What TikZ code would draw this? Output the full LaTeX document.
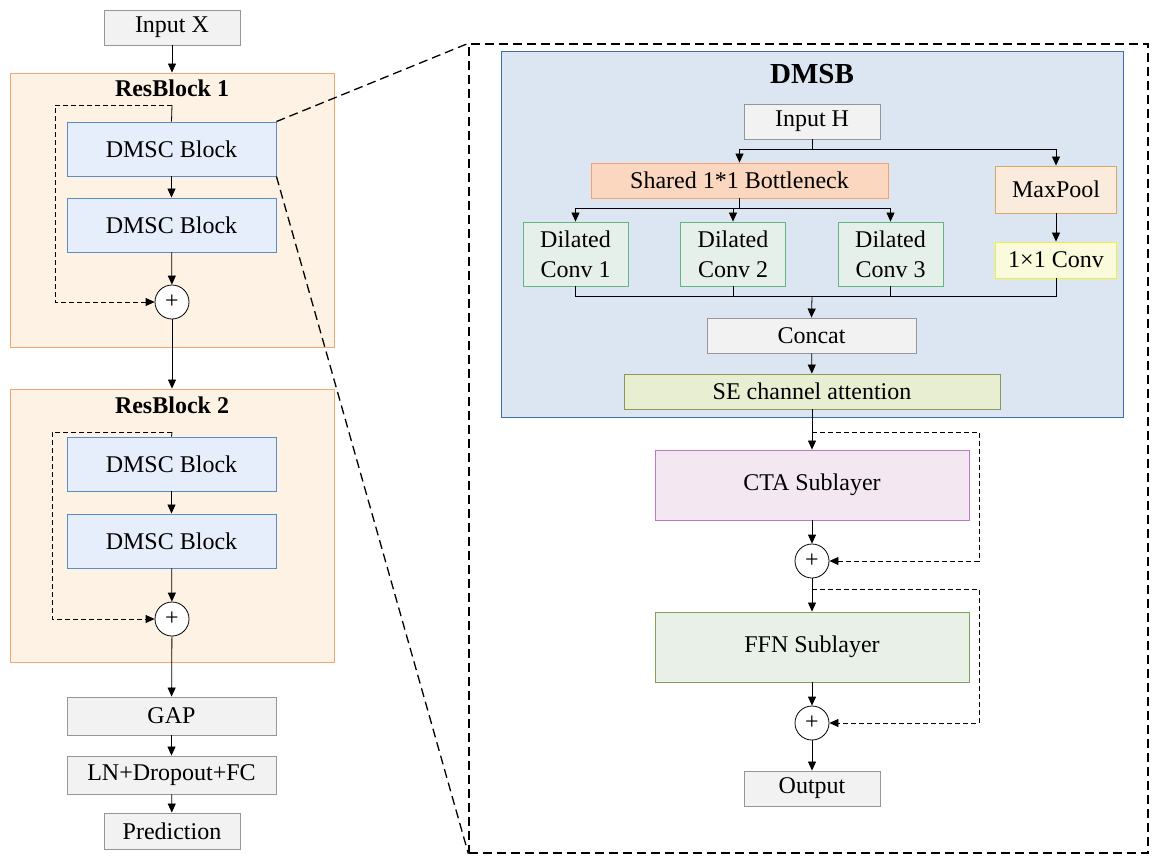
\documentclass[tikz,border=0pt]{standalone}
\usepackage{fontspec}
\setmainfont{Liberation Serif}
\usetikzlibrary{arrows.meta}
\begin{document}
\begin{tikzpicture}[x=1pt,y=-1pt,
  every node/.style={font=\fontsize{24}{26}\selectfont},
  bx/.style={draw=#1, line width=0.9pt, inner sep=0pt, minimum height=0pt},
  arr/.style={-{Triangle[length=9pt,width=8pt]}, line width=0.8pt},
  ln/.style={line width=0.8pt},
  skip/.style={-{Triangle[length=9pt,width=8pt]}, line width=0.8pt, dash pattern=on 5pt off 3pt},
  plus/.style={circle, draw, fill=white, line width=0.8pt, minimum size=34pt, inner sep=0pt}]
\definecolor{gfill}{RGB}{242,242,242}\definecolor{gbord}{RGB}{150,150,150}
\definecolor{dfill}{RGB}{229,238,250}\definecolor{dbord}{RGB}{90,140,200}
\definecolor{rfill}{RGB}{254,242,228}\definecolor{rbord}{RGB}{245,165,110}
\definecolor{mfill}{RGB}{220,230,242}\definecolor{mbord}{RGB}{60,110,170}
\definecolor{sfill}{RGB}{250,215,190}\definecolor{sbord}{RGB}{245,160,110}
\definecolor{pfill}{RGB}{250,235,220}\definecolor{pbord}{RGB}{215,170,100}
\definecolor{cfill}{RGB}{230,240,235}\definecolor{cbord}{RGB}{100,180,130}
\definecolor{yfill}{RGB}{250,250,220}\definecolor{ybord}{RGB}{240,240,60}
\definecolor{efill}{RGB}{232,238,210}\definecolor{ebord}{RGB}{140,150,90}
\definecolor{tfill}{RGB}{243,232,242}\definecolor{tbord}{RGB}{190,120,200}
\definecolor{ffill}{RGB}{232,240,232}\definecolor{fbord}{RGB}{130,160,90}
\useasboundingbox (0,0) rectangle (1159,863);
% helper macro for boxes by corners
\newcommand{\mybox}[6]{\node[bx=#5, fill=#6, minimum width=#3-#1, minimum height=#4-#2] (#1#2) at ({(#1+#3)/2},{(#2+#4)/2}) {};}
% left column
\node[bx=gbord, fill=gfill, minimum width=136pt, minimum height=35pt] (inx) at (172,27.5) {Input X};
\node[bx=rbord, fill=rfill, minimum width=324pt, minimum height=274pt] (rb1) at (172,210) {};
\node[font=\fontsize{24}{26}\selectfont\bfseries] (rb1t) at (172,88) {ResBlock 1};
\node[bx=dbord, fill=dfill, minimum width=209pt, minimum height=54pt] (d1) at (171.5,149) {DMSC Block};
\node[bx=dbord, fill=dfill, minimum width=209pt, minimum height=54pt] (d2) at (171.5,225) {DMSC Block};
\node[plus] (p1) at (172,302) {+};
\node[bx=rbord, fill=rfill, minimum width=324pt, minimum height=273pt] (rb2) at (172,525.5) {};
\node[font=\fontsize{24}{26}\selectfont\bfseries] (rb2t) at (172,405) {ResBlock 2};
\node[bx=dbord, fill=dfill, minimum width=209pt, minimum height=54pt] (d3) at (171.5,464) {DMSC Block};
\node[bx=dbord, fill=dfill, minimum width=209pt, minimum height=54pt] (d4) at (171.5,541) {DMSC Block};
\node[plus] (p2) at (172,619) {+};
\node[bx=gbord, fill=gfill, minimum width=209pt, minimum height=38pt] (gap) at (171.5,716) {GAP};
\node[bx=gbord, fill=gfill, minimum width=209pt, minimum height=38pt] (lnf) at (171.5,775) {LN+Dropout+FC};
\node[bx=gbord, fill=gfill, minimum width=136pt, minimum height=36pt] (pred) at (172,831) {Prediction};
\draw[arr] (inx) -- (rb1.north);
\draw[arr] (d1) -- (d2);
\draw[arr] (d2) -- (p1);
\draw[arr] (p1) -- (rb2.north);
\draw[arr] (d3) -- (d4);
\draw[arr] (d4) -- (p2);
\draw[arr] (p2) -- (gap);
\draw[arr] (gap) -- (lnf);
\draw[arr] (lnf) -- (pred);
\coordinate (s1) at (172,105); \coordinate (s2) at (172,432);
\draw[ln] (s1) -- (d1.north);
\draw[ln] (s2) -- (d3.north);
\draw[skip] (s1) -- (55,105) -- (55,302) -- (p1.west);
\draw[skip] (s2) -- (52,432) -- (52,619) -- (p2.west);
% zoom frame
\node[draw, line width=1.3pt, dash pattern=on 9pt off 5pt, minimum width=679pt, minimum height=809pt, inner sep=0pt] (zf) at (808.5,448.5) {};
\draw[line width=1.3pt, dash pattern=on 9pt off 5pt] (d1.north east) -- (zf.north west);
\draw[line width=1.3pt, dash pattern=on 9pt off 5pt] (d1.south east) -- (zf.south west);
% DMSB
\node[bx=mbord, fill=mfill, minimum width=622pt, minimum height=366pt] (dmsb) at (812,234) {};
\node[font=\fontsize{29}{31}\selectfont\bfseries] (dmsbt) at (812,74) {DMSB};
\node[bx=gbord, fill=gfill, minimum width=136pt, minimum height=35pt] (inh) at (812,121.5) {Input H};
\node[bx=sbord, fill=sfill, minimum width=297pt, minimum height=35pt] (sh) at (739.5,180.5) {Shared 1*1 Bottleneck};
\node[bx=pbord, fill=pfill, minimum width=121pt, minimum height=47pt] (mp) at (1056,189.5) {MaxPool};
\foreach \n/\x in {1/575.5,2/733,3/890.5}{
  \node[bx=cbord, fill=cfill, minimum width=105pt, minimum height=64pt, align=center,
    font=\fontsize{24}{30}\selectfont] (dc\n) at (\x,254) {Dilated\\Conv \n};}
\node[bx=ybord, fill=yfill, minimum width=121pt, minimum height=36pt] (c11) at (1056,260) {1×1 Conv};
\node[bx=gbord, fill=gfill, minimum width=209pt, minimum height=35pt] (cat) at (811.5,335.5) {Concat};
\node[bx=ebord, fill=efill, minimum width=376pt, minimum height=35pt] (se) at (812,391.5) {SE channel attention};
\draw[ln] (inh.south) -- (812,149);
\draw[arr] (812,149) -| (sh.north);
\draw[arr] (812,149) -| (mp.north);
\draw[ln] (sh.south) -- (739.5,208);
\draw[arr] (739.5,208) -| (dc1.north);
\draw[arr] (739.5,208) -| (dc2.north);
\draw[arr] (739.5,208) -| (dc3.north);
\draw[arr] (mp) -- (c11);
\coordinate (mg) at (812,296);
\draw[ln] (dc1.south) |- (mg);
\draw[ln] (dc2.south) |- (mg);
\draw[ln] (dc3.south) |- (mg);
\draw[ln] (c11.south) |- (mg);
\draw[arr] (mg) -- (cat.north);
\draw[arr] (cat) -- (se);
% transformer part
\node[bx=tbord, fill=tfill, minimum width=314pt, minimum height=70pt] (cta) at (812,485) {CTA Sublayer};
\node[plus] (p3) at (812,561) {+};
\node[bx=fbord, fill=ffill, minimum width=314pt, minimum height=70pt] (ffn) at (812,647) {FFN Sublayer};
\node[plus] (p4) at (812,723) {+};
\node[bx=gbord, fill=gfill, minimum width=136pt, minimum height=35pt] (out) at (812,788.5) {Output};
\draw[arr] (se) -- (cta);
\draw[arr] (cta) -- (p3);
\draw[arr] (p3) -- (ffn);
\draw[arr] (ffn) -- (p4);
\draw[arr] (p4) -- (out);
\coordinate (s3) at (812,432); \coordinate (s4) at (812,589);
\draw[skip] (s3) -- (979,432) -- (979,561) -- (p3.east);
\draw[skip] (s4) -- (979,589) -- (979,723) -- (p4.east);
\end{tikzpicture}
\end{document}
